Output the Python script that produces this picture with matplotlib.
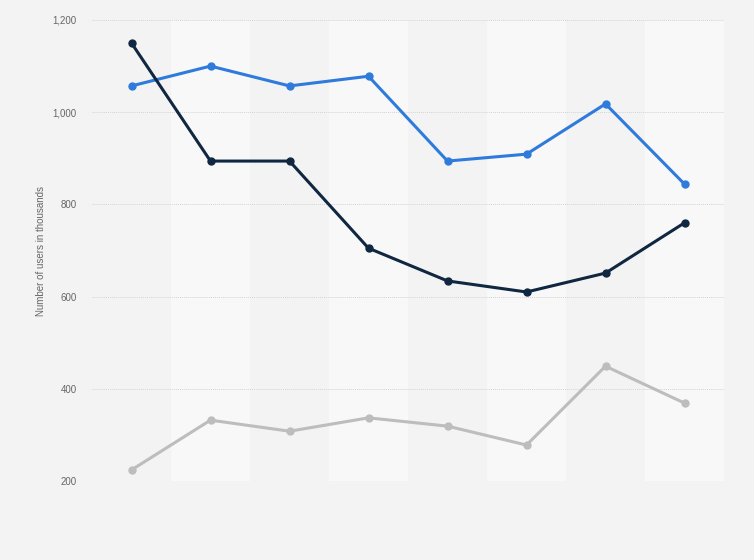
import matplotlib
matplotlib.use("Agg")
import matplotlib.pyplot as plt
import numpy as np

plt.rcParams['font.family'] = ['Liberation Sans', 'DejaVu Sans']

categories = ["1", "2", "3", "4", "5", "6", "7", "8"]
series_navy = [1150, 894, 894, 705, 634, 610, 651, 760]
series_blue = [1057, 1100, 1057, 1078, 894, 909, 1018, 844]
series_gray = [224, 332, 308, 337, 319, 278, 449, 369]
yticks = [200, 400, 600, 800, 1000, 1200]

fig = plt.figure(figsize=(7.54, 5.6), dpi=100)
fig.patch.set_facecolor("#f3f3f3")
ax = fig.add_axes([92/754, 1-481/560, (724-92)/754, (481-20)/560])
ax.set_facecolor("#f3f3f3")

x = np.arange(len(categories))
for i in x:
    if i % 2 == 1:
        ax.axvspan(i-0.5, i+0.5, color="#f8f8f8", zorder=0, lw=0)

ax.plot(x, series_gray, color="#bdbdbd", lw=2.2, marker="o", ms=5, zorder=3)
ax.plot(x, series_blue, color="#2f7bdc", lw=2.2, marker="o", ms=5, zorder=4)
ax.plot(x, series_navy, color="#0f2740", lw=2.2, marker="o", ms=5, zorder=5)

ax.set_xlim(-0.5, len(categories)-0.5)
ax.set_ylim(200, 1200)
ax.set_yticks(yticks)
ax.set_yticklabels([f"{v:,}" for v in yticks])
ax.set_xticks([])
ax.tick_params(axis="y", length=0, pad=11, labelsize=7, labelcolor="#666666")
ax.grid(axis="y", color="#d4d4d4", ls=(0, (1, 1)), lw=0.7, zorder=1)
ax.set_axisbelow(True)
for s in ax.spines.values():
    s.set_visible(False)
ax.set_ylabel("Number of users in thousands", fontsize=7, color="#666666", labelpad=5)

fig.savefig("out.png", dpi=100, facecolor=fig.get_facecolor())
